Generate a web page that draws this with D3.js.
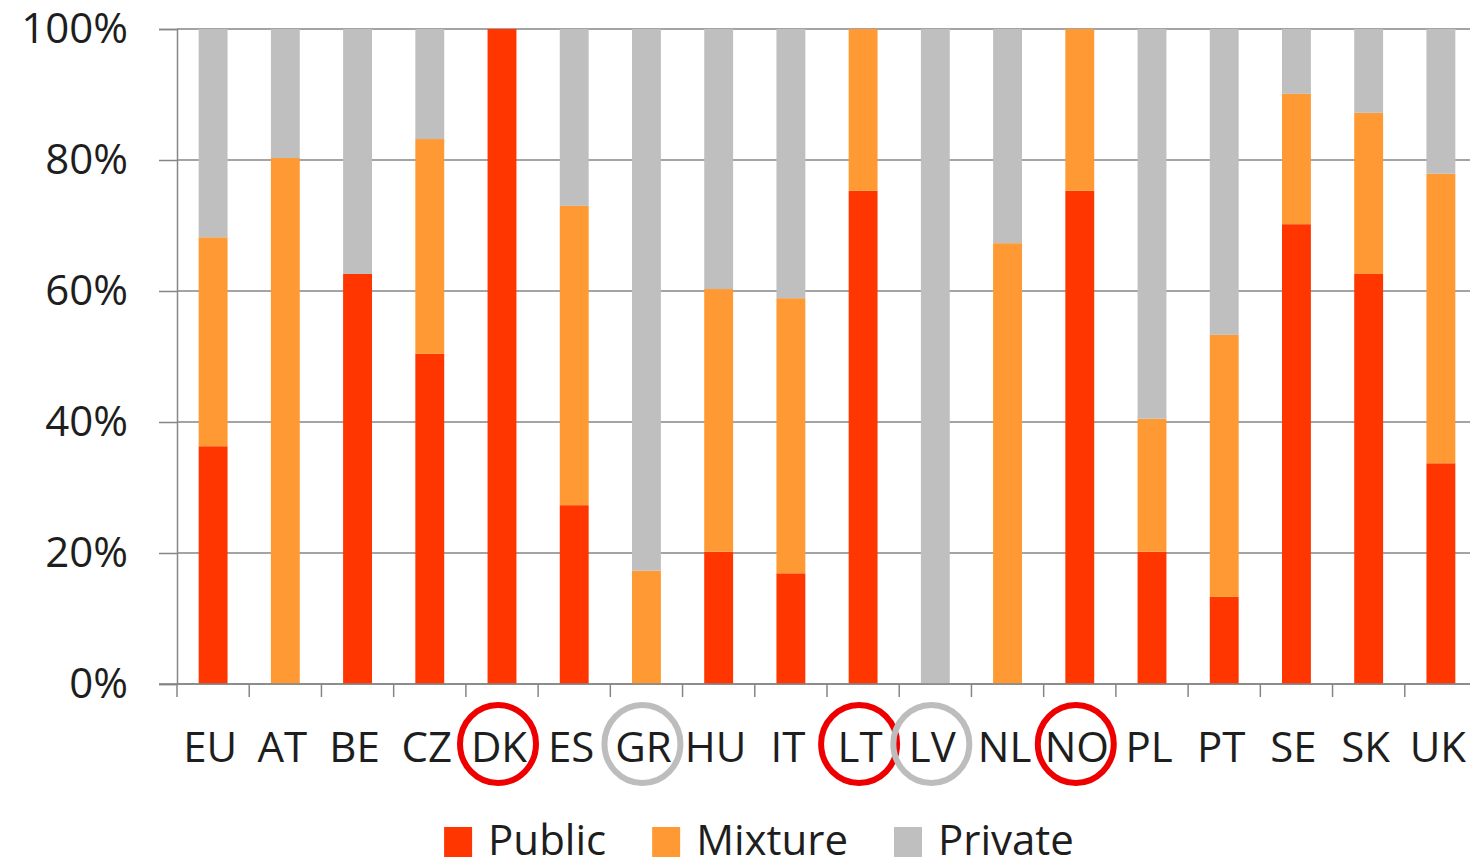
<!DOCTYPE html>
<html>
<head>
<meta charset="utf-8">
<script src="https://cdn.jsdelivr.net/npm/d3@7"></script>
<style>
  html, body { margin: 0; padding: 0; background: #fff; }
  svg { display: block; font-family: "Open Sans", "Liberation Sans", sans-serif; }
</style>
</head>
<body>
<svg id="chart" width="1470" height="861"></svg>
<script>
// Countries along the x axis
const countries = ["EU","AT","BE","CZ","DK","ES","GR","HU","IT","LT","LV","NL","NO","PL","PT","SE","SK","UK"];

// Share of each ownership type, in percent
const publicShare  = [36.3, 0, 62.6, 50.4, 100, 27.3, 0, 20.2, 16.9, 75.3, 0, 0, 75.3, 20.2, 13.3, 70.2, 62.6, 33.7];
const mixtureShare = [31.9, 80.3, 0, 32.8, 0, 45.7, 17.3, 40.1, 42.0, 24.7, 0, 67.3, 24.7, 20.3, 40.0, 19.9, 24.6, 44.2];
const privateShare = [31.8, 19.7, 37.4, 16.8, 0, 27.0, 82.7, 39.7, 41.1, 0, 100, 32.7, 0, 59.5, 46.7, 9.9, 12.8, 22.1];

const seriesNames = ["Public", "Mixture", "Private"];
const yTicks = [0, 20, 40, 60, 80, 100];

// Labels ringed below the axis
const ringedRed  = ["DK", "LT", "NO"];
const ringedGrey = ["GR", "LV"];

const colors = { Public: "#ff3600", Mixture: "#ff9933", Private: "#bfbfbf" };

const rows = countries.map((c, i) => ({
  country: c,
  Public: publicShare[i],
  Mixture: mixtureShare[i],
  Private: privateShare[i]
}));

const svg = d3.select("#chart");
const plotLeft = 177, plotRight = 1477, plotTop = 29, plotBottom = 684;

const x = d3.scaleBand()
  .domain(countries)
  .range([plotLeft, plotRight])
  .paddingInner(0.6)
  .paddingOuter(0.3);

const y = d3.scaleLinear().domain([0, 100]).range([plotBottom, plotTop]);

// Horizontal gridlines
svg.append("g")
  .selectAll("line")
  .data(yTicks)
  .join("line")
  .attr("x1", plotLeft)
  .attr("x2", 1470)
  .attr("y1", d => y(d))
  .attr("y2", d => y(d))
  .attr("stroke", "#868686")
  .attr("stroke-width", 1.5);

// Y axis
const yAxis = svg.append("g")
  .attr("transform", `translate(${plotLeft},0)`)
  .call(d3.axisLeft(y).tickValues(yTicks).tickFormat(d => d + "%").tickSize(18).tickPadding(31));
yAxis.select(".domain").attr("stroke", "#868686").attr("stroke-width", 1.5);
yAxis.selectAll(".tick line").attr("stroke", "#868686").attr("stroke-width", 1.5);
yAxis.selectAll("text")
  .attr("font-size", 42)
  .attr("fill", "#1e1e1e")
  .attr("font-family", "'Open Sans', sans-serif");

// Stacked bars
const stack = d3.stack().keys(seriesNames);
const layers = stack(rows);

svg.append("g")
  .selectAll("g")
  .data(layers)
  .join("g")
  .attr("fill", d => colors[d.key])
  .selectAll("rect")
  .data(d => d)
  .join("rect")
  .attr("x", d => x(d.data.country))
  .attr("width", x.bandwidth())
  .attr("y", d => y(d[1]))
  .attr("height", d => y(d[0]) - y(d[1]));

// X axis line and category boundary ticks
const step = x.step();
const boundaries = d3.range(countries.length + 1).map(i => plotLeft + i * step);
const xAxis = svg.append("g");
xAxis.append("line")
  .attr("x1", plotLeft - 18)
  .attr("x2", 1470)
  .attr("y1", y(0))
  .attr("y2", y(0))
  .attr("stroke", "#868686")
  .attr("stroke-width", 1.5);
xAxis.selectAll("line.tick")
  .data(boundaries)
  .join("line")
  .attr("class", "tick")
  .attr("x1", d => d)
  .attr("x2", d => d)
  .attr("y1", y(0))
  .attr("y2", y(0) + 13)
  .attr("stroke", "#868686")
  .attr("stroke-width", 1.5);

const labelY = 762;
xAxis.selectAll("text")
  .data(countries)
  .join("text")
  .attr("x", d => x(d) + x.bandwidth() / 2 - 3)
  .attr("y", labelY)
  .attr("text-anchor", "middle")
  .attr("font-size", 42)
  .attr("fill", "#1e1e1e")
  .text(d => d);

// Rings around highlighted labels
const rings = ringedRed.map(c => ({ c, color: "#ee0000" }))
  .concat(ringedGrey.map(c => ({ c, color: "#bdbdbd" })));
svg.append("g")
  .selectAll("ellipse")
  .data(rings)
  .join("ellipse")
  .attr("cx", d => x(d.c) + x.bandwidth() / 2 - 4)
  .attr("cy", 744)
  .attr("rx", 38)
  .attr("ry", 39)
  .attr("fill", "none")
  .attr("stroke", d => d.color)
  .attr("stroke-width", 6);

// Legend
const legend = svg.append("g");
const items = legend.selectAll("g")
  .data(seriesNames)
  .join("g");
items.append("rect")
  .attr("width", 28)
  .attr("height", 30)
  .attr("y", -28)
  .attr("fill", d => colors[d]);
items.append("text")
  .attr("x", 44)
  .attr("font-size", 42)
  .attr("fill", "#1e1e1e")
  .text(d => d);

let cursor = 0;
const offsets = [];
items.each(function () {
  const w = 44 + this.querySelector("text").getComputedTextLength();
  offsets.push(cursor);
  cursor += w + 46;
});
const totalW = cursor - 46;
items.attr("transform", (d, i) => `translate(${offsets[i]},0)`);
legend.attr("transform", `translate(${759 - totalW / 2},855)`);
</script>
</body>
</html>
